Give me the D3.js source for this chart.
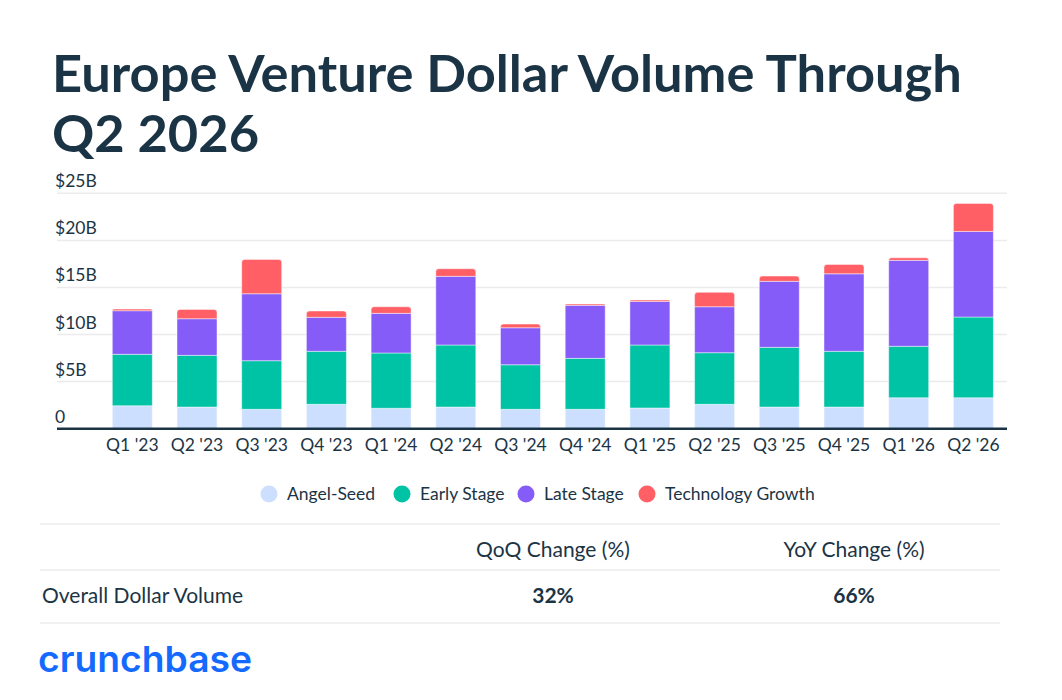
<!DOCTYPE html>
<html lang="en">
<head>
<meta charset="UTF-8">
<title>Europe Venture Dollar Volume</title>
<style>
  body { margin: 0; background: #fff; }
  svg { display: block; font-family: Lato, "Noto Sans", sans-serif; }
  .title { font-weight: 700; fill: #1b3445; }
  .tick-label { font-size: 17.5px; fill: #1b3445; }
  .grid { stroke: #ebebeb; stroke-width: 1.5px; }
  .legend text { font-size: 17.5px; fill: #1b3445; }
  .table text { font-size: 21px; fill: #1b3445; }
  .rule { stroke: #ececec; stroke-width: 1.5px; }
</style>
</head>
<body>
<script src="https://d3js.org/d3.v7.min.js"></script>
<script>
// values in $B
const quarters = ["Q1 '23", "Q2 '23", "Q3 '23", "Q4 '23", "Q1 '24", "Q2 '24", "Q3 '24",
                  "Q4 '24", "Q1 '25", "Q2 '25", "Q3 '25", "Q4 '25", "Q1 '26", "Q2 '26"];
const angelSeed  = [2.44, 2.30, 2.06, 2.59, 2.17, 2.30, 2.06, 2.06, 2.20, 2.59, 2.30, 2.30, 3.29, 3.29];
const earlyStage = [5.46, 5.49, 5.16, 5.63, 5.87, 6.59, 4.73, 5.41, 6.69, 5.48, 6.34, 5.92, 5.46, 8.57];
const lateStage  = [4.63, 3.89, 7.11, 3.61, 4.21, 7.29, 3.93, 5.63, 4.63, 4.88, 7.01, 8.23, 9.13, 9.09];
const techGrowth = [0.17, 0.99, 3.65, 0.67, 0.70, 0.81, 0.39, 0.14, 0.14, 1.53, 0.56, 1.00, 0.27, 2.98];

const seriesNames = ["Angel-Seed", "Early Stage", "Late Stage", "Technology Growth"];
const seriesColors = ["#cddfff", "#00c2a5", "#855cf8", "#ff5f65"];

const yTicks = [0, 5, 10, 15, 20, 25];
const tableHeaders = ["QoQ Change (%)", "YoY Change (%)"];
const tableRowLabel = "Overall Dollar Volume";
const tableValues = ["32%", "66%"];

const width = 1062, height = 700;

const svg = d3.select("body").append("svg")
    .attr("width", width)
    .attr("height", height);

// title, two lines
const titleLines = ["Europe Venture Dollar Volume Through", "Q2 2026"];
const title = svg.append("text").attr("class", "title").attr("font-size", 49);
titleLines.forEach((t, i) => {
  title.append("tspan").attr("x", 52).attr("y", 92 + i * 60).text(t);
});
// stretch first line to the reference width
const firstLine = title.select("tspan").node();
const w0 = firstLine.getComputedTextLength();
title.attr("font-size", 49 * 910 / w0);

// stacked data
const rows = quarters.map((q, i) => ({
  quarter: q,
  "Angel-Seed": angelSeed[i],
  "Early Stage": earlyStage[i],
  "Late Stage": lateStage[i],
  "Technology Growth": techGrowth[i]
}));
const stacked = d3.stack().keys(seriesNames)(rows);

const x = d3.scaleBand()
    .domain(quarters)
    .range([87.6, 1018.1])
    .padding(0.382);

const y = d3.scaleLinear()
    .domain([0, 25])
    .range([428.7, 193.3]);

const plotLeft = 57, plotRight = 1007;

// grid + labels
svg.append("g").selectAll("line")
  .data(yTicks.filter(d => d > 0))
  .join("line")
  .attr("class", "grid")
  .attr("x1", plotLeft).attr("x2", plotRight)
  .attr("y1", d => y(d)).attr("y2", d => y(d));

svg.append("g").selectAll("text")
  .data(yTicks)
  .join("text")
  .attr("class", "tick-label")
  .attr("x", 55)
  .attr("y", d => y(d) - 6)
  .text(d => d === 0 ? "0" : `$${d}B`);

// bars
function topRounded(x0, y0, w, h, r) {
  r = Math.min(r, h, w / 2);
  return `M${x0},${y0 + h}V${y0 + r}Q${x0},${y0} ${x0 + r},${y0}H${x0 + w - r}Q${x0 + w},${y0} ${x0 + w},${y0 + r}V${y0 + h}Z`;
}

const layer = svg.append("g").selectAll("g")
  .data(stacked)
  .join("g")
  .attr("fill", (d, i) => seriesColors[i]);

layer.selectAll("path")
  .data(d => d.map(v => ({ v, top: d.index === seriesNames.length - 1 })))
  .join("path")
  .attr("d", d => topRounded(x(d.v.data.quarter), y(d.v[1]), x.bandwidth(), y(d.v[0]) - y(d.v[1]), d.top ? 3 : 0))
  .attr("stroke", "#ffffff")
  .attr("stroke-opacity", 0.45)
  .attr("stroke-width", 1);

// baseline
svg.append("line")
  .attr("x1", plotLeft).attr("x2", plotRight)
  .attr("y1", y(0)).attr("y2", y(0))
  .attr("stroke", "#1b3445")
  .attr("stroke-width", 2.5);

// x labels
svg.append("g").selectAll("text")
  .data(quarters)
  .join("text")
  .attr("class", "tick-label")
  .attr("text-anchor", "middle")
  .attr("x", d => x(d) + x.bandwidth() / 2)
  .attr("y", 451)
  .text(d => d);

// legend
const legendX = [269, 402, 526, 647];
const legend = svg.append("g").attr("class", "legend").selectAll("g")
  .data(seriesNames)
  .join("g")
  .attr("transform", (d, i) => `translate(${legendX[i]},494)`);
legend.append("circle").attr("r", 8.5).attr("fill", (d, i) => seriesColors[i]);
legend.append("text").attr("x", 18).attr("y", 6).text(d => d);

// table
const table = svg.append("g").attr("class", "table");
[524, 570, 623].forEach(yy => {
  table.append("line").attr("class", "rule")
    .attr("x1", 40).attr("x2", 1000).attr("y1", yy).attr("y2", yy);
});
const colX = [553, 854];
table.selectAll(".hdr")
  .data(tableHeaders)
  .join("text")
  .attr("class", "hdr")
  .attr("text-anchor", "middle")
  .attr("x", (d, i) => colX[i])
  .attr("y", 557)
  .text(d => d);
table.append("text")
  .attr("x", 42).attr("y", 603)
  .text(tableRowLabel);
table.selectAll(".val")
  .data(tableValues)
  .join("text")
  .attr("class", "val")
  .attr("text-anchor", "middle")
  .attr("font-weight", 700)
  .attr("x", (d, i) => colX[i])
  .attr("y", 603)
  .text(d => d);

// logo
svg.append("text")
  .attr("x", 38).attr("y", 672)
  .attr("font-family", "Inter, sans-serif")
  .attr("font-weight", 600)
  .attr("font-size", 36)
  .attr("fill", "#146aff")
  .text("crunchbase")
  .attr("textLength", 214)
  .attr("lengthAdjust", "spacingAndGlyphs");
</script>
</body>
</html>
